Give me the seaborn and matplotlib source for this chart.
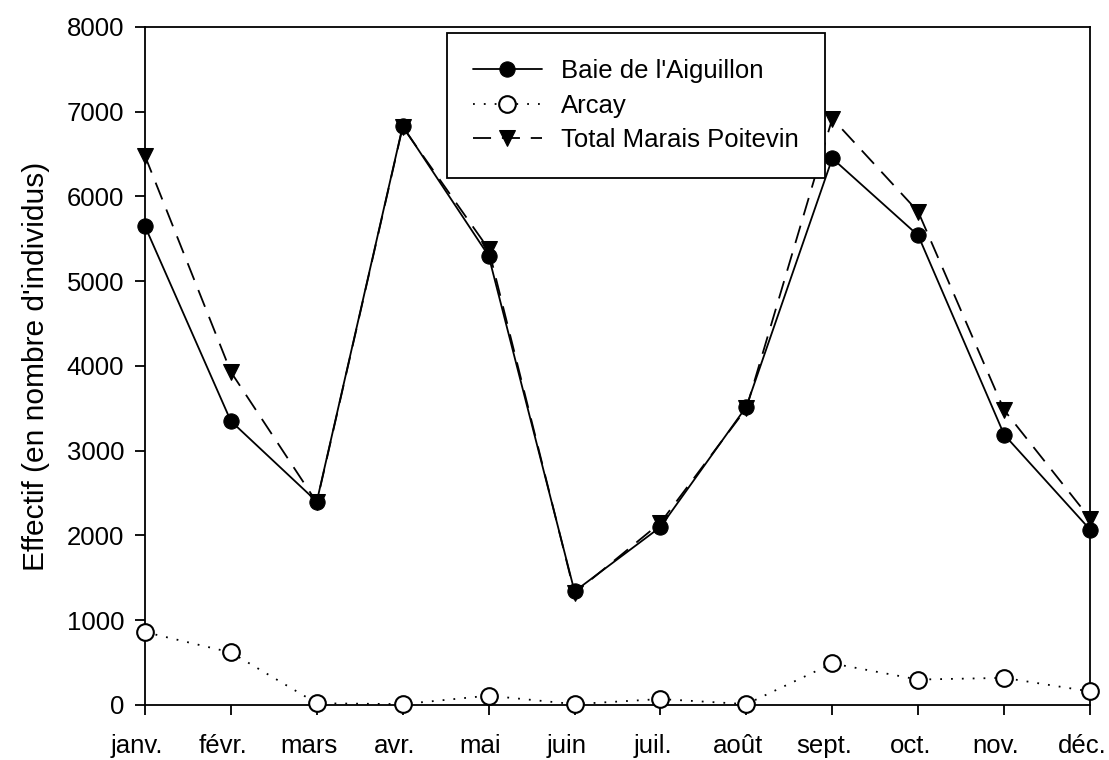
import pandas as pd
import matplotlib.pyplot as plt
import matplotlib.transforms as mtransforms
import seaborn as sns

months = ['janv.', 'févr.', 'mars', 'avr.', 'mai', 'juin', 'juil.', 'août',
          'sept.', 'oct.', 'nov.', 'déc.']
baie = [5650, 3350, 2400, 6830, 5300, 1340, 2100, 3520, 6450, 5540, 3190, 2070]
arcay = [860, 620, 20, 10, 110, 10, 70, 10, 490, 300, 320, 160]
total = [6480, 3930, 2390, 6820, 5380, 1320, 2150, 3500, 6920, 5820, 3480, 2200]

sns.set_style('ticks')
plt.rcParams['font.family'] = ['Liberation Sans', 'DejaVu Sans']
plt.rcParams['text.color'] = 'black'
plt.rcParams['axes.labelcolor'] = 'black'

df = pd.DataFrame({'pos': range(len(months)), 'mois': months,
                   'baie': baie, 'arcay': arcay, 'total': total})

fig = plt.figure(figsize=(11.09, 7.6), dpi=100)
ax = fig.add_axes([0.1307, 0.0724, 0.8522, 0.8921])

sns.lineplot(data=df, x='pos', y='baie', ax=ax, color='black', lw=1.3,
             marker='o', markersize=11, markerfacecolor='black',
             markeredgecolor='black', label="Baie de l'Aiguillon", zorder=3)
sns.lineplot(data=df, x='pos', y='arcay', ax=ax, color='black', lw=1.3,
             linestyle=(0, (1, 5)), marker='o', markersize=12,
             markerfacecolor='white', markeredgecolor='black',
             markeredgewidth=1.5, label='Arcay', zorder=3)
sns.lineplot(data=df, x='pos', y='total', ax=ax, color='black', lw=1.3,
             linestyle=(0, (10, 6)), marker='v', markersize=12,
             markerfacecolor='black', markeredgecolor='black',
             label='Total Marais Poitevin', zorder=3)

ax.set_xlim(0, len(months) - 1)
ax.set_ylim(0, 8000)
ax.set_xticks(df['pos'])
ax.set_xticklabels(months)
ax.set_yticks(range(0, 8001, 1000))
ax.tick_params(axis='both', direction='out', length=7, width=1.3,
               labelsize=18.5, color='black', labelcolor='black')
ax.tick_params(axis='x', pad=14)
ax.tick_params(axis='y', pad=8)
ax.set_xlabel('')
ax.set_ylabel("Effectif (en nombre d'individus)", fontsize=21.5, labelpad=12)
for sp in ax.spines.values():
    sp.set_linewidth(1.3)
    sp.set_color('black')
    sp.set_clip_on(False)
for line in ax.lines:
    line.set_clip_on(False)

# month labels sit a little left of their ticks in the original
shift = mtransforms.ScaledTranslation(-0.08, 0, fig.dpi_scale_trans)
for lab in ax.get_xticklabels():
    lab.set_transform(lab.get_transform() + shift)

leg = ax.legend(loc='upper left', bbox_to_anchor=(0.3196, 0.991),
                fontsize=18.5, frameon=True, fancybox=False, edgecolor='black',
                framealpha=1, borderpad=1.0, handlelength=2.7,
                labelspacing=0.42, handletextpad=0.75, borderaxespad=0)
leg.get_frame().set_linewidth(1.3)
leg.set_zorder(5)

fig.savefig('out.png', dpi=100)
